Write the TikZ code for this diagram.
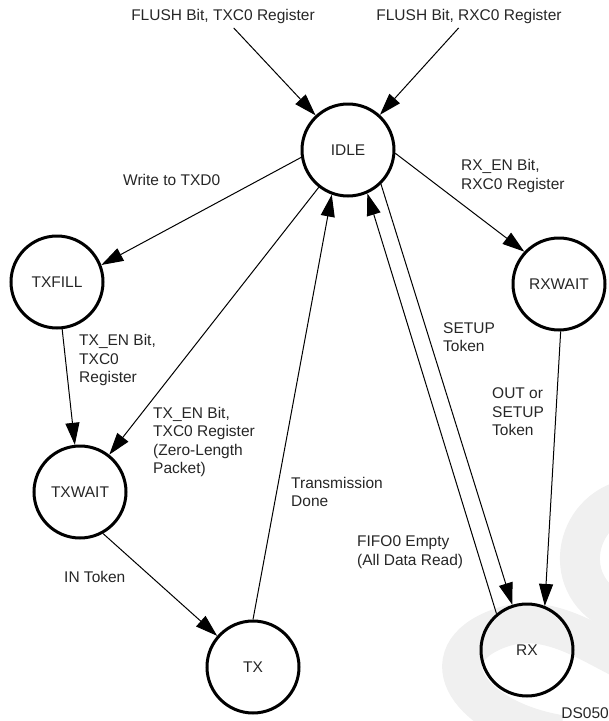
\documentclass[tikz,border=0pt]{standalone}
\usepackage{fontspec}
\setmainfont{Liberation Sans}
\usetikzlibrary{arrows.meta}
\providecommand{\StateSize}{92pt}
\providecommand{\StateLine}{3pt}
\providecommand{\EdgeLine}{1pt}
\providecommand{\LabelFont}{\fontsize{15.5}{18.5}\selectfont}

\begin{document}
\begin{tikzpicture}[x=1pt,y=-1pt,
    state/.style={circle,draw,line width=\StateLine,minimum size=\StateSize,
        inner sep=0pt,font=\LabelFont,text=black!85},
    trans/.style={line width=\EdgeLine,-{Triangle[length=22pt,width=14pt]}},
    lbl/.style={anchor=west,align=left,inner sep=0pt,font=\LabelFont,text=black!85}]

% Page frame (pixel grid of the sheet, y grows downwards)
\useasboundingbox (0,0) rectangle (609,721);

% =====================================================
% FAINT WATERMARK IN THE LOWER RIGHT CORNER
% =====================================================
\begin{scope}
    \clip (0,0) rectangle (609,721);
    \draw[gray!12,line width=40pt]
        (625,500) .. controls (570,515) and (560,595) .. (625,615);
    \draw[gray!12,line width=40pt]
        (560,735) .. controls (470,720) and (425,655) .. (500,628)
        .. controls (545,612) and (585,640) .. (625,660);
\end{scope}

% =====================================================
% STATES
% =====================================================
\foreach \name/\x/\y/\txt in {idle/348/150/IDLE,txfill/57/282/TXFILL,
    rxwait/559/284/RXWAIT,txwait/80/492/TXWAIT,tx/253/667/TX,rx/527/650/RX} {
    \node[state] (\name) at (\x,\y) {\txt};
}

% =====================================================
% EXTERNAL RESETS
% =====================================================
\node[font=\LabelFont,text=black!85,inner sep=4pt] (flushtx) at (223,16.5)
    {FLUSH Bit, TXC0 Register};
\node[font=\LabelFont,text=black!85,inner sep=4pt] (flushrx) at (469,16.5)
    {FLUSH Bit, RXC0 Register};

\draw[trans] (flushtx) -- (idle);
\draw[trans] (flushrx) -- (idle);

% =====================================================
% TRANSMIT SIDE
% =====================================================
\draw[trans] (idle.189) -- (txfill.21);
\draw[trans] (txfill) -- (txwait);
\draw[trans] (idle) -- (txwait);
\draw[trans] (txwait.299) -- (tx.139);
\draw[trans] (tx.90) -- (idle.250);

\node[lbl] (lwrite) at (123,180) {Write to TXD0};
\node[lbl] (ltxen) at (79,360) {TX\_EN Bit,\\TXC0\\Register};
\node[lbl] (lzero) at (153,442) {TX\_EN Bit,\\TXC0 Register\\(Zero-Length\\Packet)};
\node[lbl] (lin) at (64,577) {IN Token};
\node[lbl] (ldone) at (291,492) {Transmission\\Done};

% =====================================================
% RECEIVE SIDE
% =====================================================
\draw[trans] (idle.356) -- (rxwait.137);
\draw[trans] (rxwait.272) -- (rx.68);
\draw[trans] (idle.314) -- (rx.108);
\draw[trans] (rx.130) -- (idle.294);

\node[lbl] (lrxen) at (461,176) {RX\_EN Bit,\\RXC0 Register};
\node[lbl] (lsetup) at (443,337) {SETUP\\Token};
\node[lbl] (lout) at (492,412) {OUT or\\SETUP\\Token};
\node[lbl] (lfifo) at (357,552) {FIFO0 Empty\\(All Data Read)};

% Figure tag
\node[lbl,anchor=east] (ltag) at (609,713) {DS050};

\end{tikzpicture}
\end{document}
